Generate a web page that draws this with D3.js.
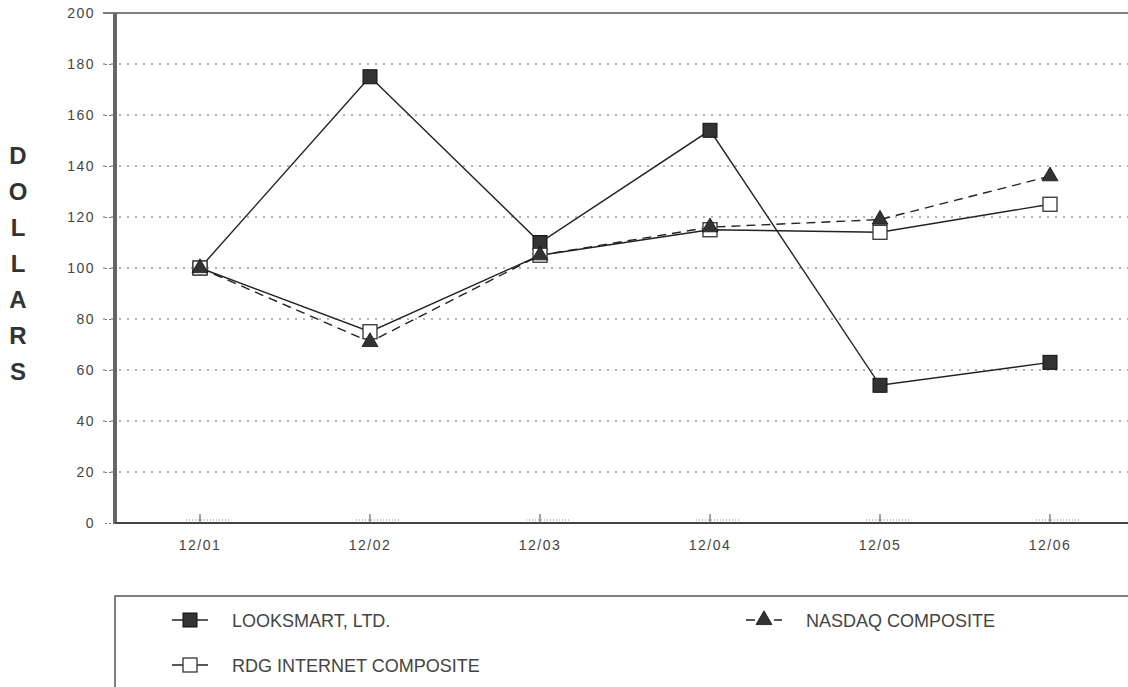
<!DOCTYPE html>
<html>
<head>
<meta charset="utf-8">
<script src="https://cdn.jsdelivr.net/npm/d3@7"></script>
<style>
  body { margin: 0; background: #fff; }
  svg { display: block; font-family: "Liberation Sans", Arial, sans-serif; }
  .legend-text { fill: #444; font-size: 18px; }
</style>
</head>
<body>
<div id="chart"></div>
<script>
// data
const periods = ["12/01", "12/02", "12/03", "12/04", "12/05", "12/06"];
const looksmart = [100, 175, 110, 154, 54, 63];
const nasdaq = [100, 71, 105, 116, 119, 136];
const rdg = [100, 75, 105, 115, 114, 125];
const yTicks = [0, 20, 40, 60, 80, 100, 120, 140, 160, 180, 200];

const width = 1128, height = 687;
const margins = { top: 13, left: 115, bottom: 164 };
const plotBottom = height - margins.bottom; // 523

const svg = d3.select("#chart").append("svg")
    .attr("width", width)
    .attr("height", height);

// scales
const xScale = d3.scaleBand()
    .domain(periods)
    .range([margins.left, margins.left + 1020]);

const yScale = d3.scaleLinear()
    .domain([0, 200])
    .range([plotBottom, margins.top]);

const xMid = d => xScale(d) + xScale.bandwidth() / 2;

// tick label look (wide, grey)
function styleTickText(sel) {
    sel.attr("fill", "#444")
        .style("font-family", "'Liberation Sans', Arial, sans-serif")
        .style("font-size", "14px")
        .style("letter-spacing", "1.5px");
}

// dotted gridlines
svg.append("g")
    .selectAll("line")
    .data(yTicks.filter(t => t > 0 && t < 200))
    .join("line")
    .attr("x1", margins.left - 12)
    .attr("x2", width)
    .attr("y1", d => yScale(d))
    .attr("y2", d => yScale(d))
    .attr("stroke", "#666")
    .attr("stroke-width", 1.2)
    .attr("stroke-dasharray", "2,6");

// top border
svg.append("line")
    .attr("x1", margins.left - 12).attr("x2", width)
    .attr("y1", yScale(200)).attr("y2", yScale(200))
    .attr("stroke", "#555").attr("stroke-width", 1.5);

// y axis labels and ticks
const yAxis = d3.axisLeft(yScale).tickValues(yTicks).tickSize(12).tickPadding(8);
const yAxisG = svg.append("g")
    .attr("transform", `translate(${margins.left},0)`)
    .call(yAxis);
yAxisG.select(".domain").remove();
yAxisG.selectAll(".tick line").attr("stroke", "#777").attr("stroke-dasharray", "2,2");
yAxisG.selectAll(".tick text").call(styleTickText);

// y axis thick line
svg.append("line")
    .attr("x1", margins.left).attr("x2", margins.left)
    .attr("y1", yScale(200)).attr("y2", plotBottom)
    .attr("stroke", "#666").attr("stroke-width", 4);

// x axis
svg.append("line")
    .attr("x1", margins.left).attr("x2", width)
    .attr("y1", plotBottom).attr("y2", plotBottom)
    .attr("stroke", "#444").attr("stroke-width", 2);

const xAxis = d3.axisBottom(xScale).tickSize(0).tickPadding(17);
const xAxisG = svg.append("g")
    .attr("transform", `translate(0,${plotBottom})`)
    .call(xAxis);
xAxisG.select(".domain").remove();
xAxisG.selectAll(".tick text").call(styleTickText);

// small tick marks above the x axis
const xTickG = svg.append("g");
xTickG.selectAll(".xt")
    .data(periods)
    .join("line")
    .attr("x1", d => xMid(d)).attr("x2", d => xMid(d))
    .attr("y1", plotBottom - 9).attr("y2", plotBottom)
    .attr("stroke", "#666").attr("stroke-width", 1.2);
xTickG.selectAll(".xd")
    .data(periods)
    .join("line")
    .attr("x1", d => xMid(d) - 14).attr("x2", d => xMid(d) + 30)
    .attr("y1", plotBottom - 3).attr("y2", plotBottom - 3)
    .attr("stroke", "#888").attr("stroke-width", 1)
    .attr("stroke-dasharray", "1,2");

// DOLLARS vertical label
svg.append("g")
    .selectAll("text")
    .data("DOLLARS".split(""))
    .join("text")
    .attr("x", 18)
    .attr("y", (d, i) => 164 + i * 36)
    .attr("text-anchor", "middle")
    .attr("font-size", 24)
    .attr("font-weight", "bold")
    .attr("fill", "#333")
    .text(d => d);

// series
const series = [
    { name: "LOOKSMART, LTD.", values: looksmart, dash: null, marker: "filledSquare" },
    { name: "RDG INTERNET COMPOSITE", values: rdg, dash: null, marker: "openSquare" },
    { name: "NASDAQ COMPOSITE", values: nasdaq, dash: "9,6", marker: "triangle" }
];

const line = d3.line()
    .x((d, i) => xMid(periods[i]))
    .y(d => yScale(d));

function drawMarker(g, type, x, y) {
    if (type === "filledSquare") {
        g.append("rect")
            .attr("x", x - 7).attr("y", y - 7)
            .attr("width", 14).attr("height", 14)
            .attr("fill", "#333").attr("stroke", "#111").attr("stroke-width", 1);
    } else if (type === "openSquare") {
        g.append("rect")
            .attr("x", x - 7).attr("y", y - 7)
            .attr("width", 14).attr("height", 14)
            .attr("fill", "#fff").attr("stroke", "#333").attr("stroke-width", 1.3);
    } else {
        g.append("path")
            .attr("d", d3.symbol().type(d3.symbolTriangle).size(110)())
            .attr("transform", `translate(${x},${y})`)
            .attr("fill", "#333").attr("stroke", "#111").attr("stroke-width", 0.8);
    }
}

series.forEach(s => {
    svg.append("path")
        .datum(s.values)
        .attr("d", line)
        .attr("fill", "none")
        .attr("stroke", "#222")
        .attr("stroke-width", 1.4)
        .attr("stroke-dasharray", s.dash);
});
series.forEach(s => {
    const g = svg.append("g");
    s.values.forEach((v, i) => drawMarker(g, s.marker, xMid(periods[i]), yScale(v)));
});

// legend box
const legendTop = 596;
svg.append("path")
    .attr("d", `M${margins.left},${height} V${legendTop} H${width}`)
    .attr("fill", "none")
    .attr("stroke", "#555")
    .attr("stroke-width", 1.5);

const legendItems = [
    { s: series[0], x: 172, y: 620 },
    { s: series[2], x: 746, y: 620 },
    { s: series[1], x: 172, y: 665 }
];
legendItems.forEach(item => {
    const g = svg.append("g");
    g.append("line")
        .attr("x1", item.x).attr("x2", item.x + 36)
        .attr("y1", item.y).attr("y2", item.y)
        .attr("stroke", "#222").attr("stroke-width", 1.4)
        .attr("stroke-dasharray", item.s.dash ? "9,5" : null);
    drawMarker(g, item.s.marker, item.x + 18, item.y);
    g.append("text")
        .attr("class", "legend-text")
        .attr("x", item.x + 60)
        .attr("y", item.y + 7)
        .text(item.s.name);
});
</script>
</body>
</html>
